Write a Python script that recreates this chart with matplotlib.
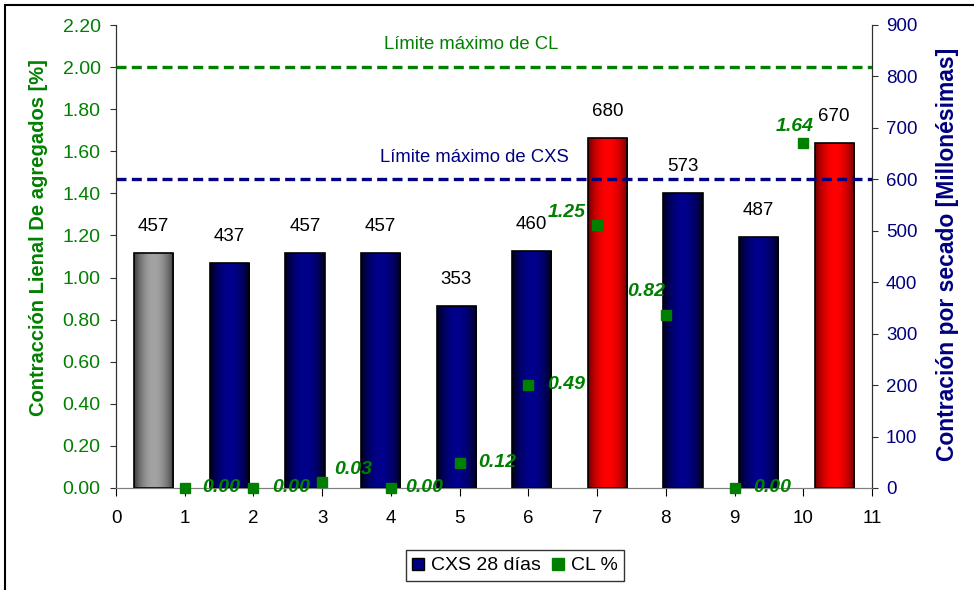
#
#   Contraccion lineal (CL) y por secado (CXS) de agregados
#
#--------------------------------------------------------60

from matplotlib import pyplot as plt
from matplotlib.patches import Rectangle
from matplotlib.lines import Line2D
import numpy as np

#--------------------------------------------------------60
# Data

cxs_values = [457, 437, 457, 457, 353, 460, 680, 573, 487, 670]
cxs_kind = ['gray', 'navy', 'navy', 'navy', 'navy', 'navy', 'red', 'navy',
            'navy', 'red']

cl_x = [1, 2, 3, 4, 5, 6, 7, 8, 9, 10]
cl_values = [0.00, 0.00, 0.03, 0.00, 0.12, 0.49, 1.25, 0.82, 0.00, 1.64]
# label offsets in points (dx, dy) for the CL values
cl_offsets = [(26, 0), (27, 0), (22, 9), (24, 0), (27, 0), (27, 0),
              (-22, 9), (-14, 17), (27, 0), (-6, 12)]

cl_limit = 2.00
cxs_limit = 600

left_ticks = np.arange(0, 2.21, 0.2)
right_ticks = np.arange(0, 901, 100)
x_ticks = np.arange(0, 12, 1)

GREEN = '#008000'
NAVY = '#000080'
FONT = 'Liberation Sans'

plt.rcParams['font.family'] = [FONT, 'DejaVu Sans']

#--------------------------------------------------------60

fig = plt.figure(figsize=(9.74, 5.90), dpi=100)
ax = fig.add_axes([116/974., 1-488/590., (872-116)/974., (488-25)/590.])
ax2 = ax.twinx()

# outer frame of the figure
fig.patches.append(Rectangle((5/974., -0.1), 1.2, 0.1+1-5/590.,
                             transform=fig.transFigure, fill=False,
                             edgecolor='black', lw=1.5, zorder=0))

#-------------------------------------
# Bars (CXS) on the right axis, with a cylinder-like shading

grad = {'gray': ((0.22, 0.22, 0.22), (0.64, 0.64, 0.64)),
        'navy': ((0.0, 0.0, 0.10), (0.0, 0.0, 0.55)),
        'red': ((0.42, 0.0, 0.0), (1.0, 0.0, 0.0))}

nbars = len(cxs_values)
xpos = (np.arange(nbars) + 0.5) * 11.0 / nbars
bwidth = 0.57

bars = ax2.bar(xpos, cxs_values, width=bwidth, facecolor='none',
               edgecolor='black', lw=1.2, zorder=3)

t = np.linspace(0, 1, 64)
shade = np.sin(np.pi * t) ** 0.8
for bar, kind in zip(bars, cxs_kind):
    c0, c1 = np.array(grad[kind][0]), np.array(grad[kind][1])
    img = c0[None, None, :] + (c1 - c0)[None, None, :] * shade[None, :, None]
    x0 = bar.get_x()
    im = ax2.imshow(img, extent=[x0, x0 + bar.get_width(), 0, bar.get_height()],
                    aspect='auto', zorder=2, interpolation='bilinear')
    im.set_clip_path(bar)

for xb, v in zip(xpos, cxs_values):
    ax2.annotate('%d' % v, (xb, v), xytext=(0, 13), textcoords='offset points',
                 ha='center', va='bottom', fontsize=13.5, color='black')

ax2.axhline(cxs_limit, color=NAVY, lw=2.4, dashes=(3, 1.6), zorder=4)
ax2.text(5.21, 643, 'Límite máximo de CXS', color=NAVY, fontsize=13.3,
         ha='center', va='center')

ax2.set_ylim(0, 900)
ax2.set_yticks(right_ticks)
ax2.tick_params(axis='y', colors=NAVY, labelsize=13.5, length=4.5, pad=5.5)
ax2.set_ylabel('Contración por secado [Millonésimas]', color=NAVY,
               fontsize=16.5, fontweight='bold')
ax2.yaxis.set_label_coords(1.085, 0.505)

#-------------------------------------
# CL points on the left axis

ax.set_zorder(ax2.get_zorder() + 1)
ax.patch.set_visible(False)

ax.plot(cl_x, cl_values, 's', color=GREEN, ms=7, clip_on=False, zorder=5)
for xc, v, off in zip(cl_x, cl_values, cl_offsets):
    ax.annotate('%.2f' % v, (xc, v), xytext=off, textcoords='offset points',
                ha='center', va='center', fontsize=14, color=GREEN,
                fontweight='bold', fontstyle='italic', zorder=6)

ax.axhline(cl_limit, color=GREEN, lw=2.4, dashes=(3, 1.6), zorder=4)
ax.text(5.17, 2.105, 'Límite máximo de CL', color=GREEN, fontsize=13.3,
        ha='center', va='center')

ax.set_xlim(0, 11)
ax.set_ylim(0, 2.2)
ax.set_xticks(x_ticks)
ax.set_yticks(left_ticks)
ax.set_yticklabels(['%.2f' % v for v in left_ticks])
ax.tick_params(axis='y', colors=GREEN, labelsize=14, length=4.5, pad=6.5)
ax.tick_params(axis='x', labelsize=13.5, length=6, direction='out', pad=10)
ax.set_ylabel('Contracción Lienal De agregados [%]', color=GREEN,
              fontsize=14.5, fontweight='bold')
ax.yaxis.set_label_coords(-0.09, 0.54)

for a in (ax, ax2):
    a.spines['top'].set_visible(False)
    a.spines['bottom'].set_color('#808080')
    a.spines['left'].set_color('#303030')
    a.spines['right'].set_color('#303030')
ax.tick_params(axis='y', color='#303030')
ax2.tick_params(axis='y', color='#303030')

#-------------------------------------
# Legend below the plot

handles = [Line2D([], [], marker='s', ls='none', mfc=NAVY, mec='black',
                  ms=9),
           Line2D([], [], marker='s', ls='none', mfc=GREEN, mec=GREEN, ms=8)]
leg = fig.legend(handles, ['CXS 28 días', 'CL %'], loc='upper center',
                 bbox_to_anchor=(515/974., 1-550/590.), ncol=2, fontsize=14,
                 frameon=True, fancybox=False, handletextpad=0.35,
                 columnspacing=0.6, handlelength=0.6, borderpad=0.35,
                 borderaxespad=0)
leg.get_frame().set_edgecolor('black')
leg.get_frame().set_linewidth(1.0)

plt.savefig('out.png', dpi=100)
plt.close()
